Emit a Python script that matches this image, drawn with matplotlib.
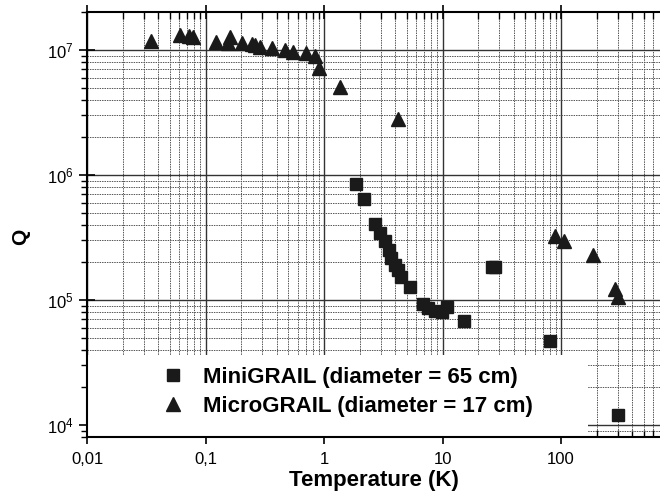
import matplotlib
matplotlib.use("Agg")
import matplotlib.pyplot as plt
from matplotlib.patches import Rectangle
from matplotlib.ticker import LogLocator, FuncFormatter, NullFormatter

plt.rcParams['font.family'] = ['Liberation Sans', 'DejaVu Sans']
plt.rcParams['mathtext.default'] = 'regular'

# MiniGRAIL (squares)
mini_T = [1.86, 2.18, 2.69, 2.97, 3.27, 3.5, 3.7, 3.96, 4.2, 4.5, 5.3,
          6.8, 7.6, 8.65, 9.9, 10.9, 15.1, 26.0, 27.5, 80.7, 302]
mini_Q = [8.5e5, 6.4e5, 4.06e5, 3.43e5, 2.97e5, 2.51e5, 2.17e5, 1.9e5, 1.74e5, 1.53e5, 1.27e5,
          9.3e4, 8.6e4, 8.2e4, 8.0e4, 8.8e4, 6.8e4, 1.84e5, 1.84e5, 4.7e4, 1.2e4]

# MicroGRAIL (triangles)
micro_T = [0.0347, 0.061, 0.0726, 0.0785, 0.123, 0.155, 0.161, 0.203, 0.247, 0.26,
           0.288, 0.363, 0.469, 0.547, 0.705, 0.84, 0.91, 1.36, 4.2, 89, 106, 186, 286, 302]
micro_Q = [1.18e7, 1.32e7, 1.29e7, 1.27e7, 1.16e7, 1.14e7, 1.27e7, 1.14e7, 1.12e7, 1.1e7,
           1.06e7, 1.04e7, 1.0e7, 0.96e7, 0.95e7, 0.9e7, 7.2e6, 5.06e6, 2.8e6, 3.25e5, 2.97e5,
           2.29e5, 1.22e5, 1.06e5]

labels = ["MiniGRAIL (diameter = 65 cm)", "MicroGRAIL (diameter = 17 cm)"]


def comma_fmt(x, pos):
    if x >= 1:
        return "%d" % round(x)
    return ("%g" % x).replace(".", ",")


def main():
    fig = plt.figure(figsize=(6.6, 5), dpi=100)
    ax = fig.add_axes([0.132, 0.126, 0.868, 0.85])
    ax.set_xscale("log")
    ax.set_yscale("log")
    ax.set(xlim=(0.01, 684), ylim=(8.0e3, 2.01e7))

    ax.xaxis.set_major_locator(LogLocator(base=10, numticks=12))
    ax.xaxis.set_minor_locator(LogLocator(base=10, subs=range(2, 10), numticks=12))
    ax.xaxis.set_major_formatter(FuncFormatter(comma_fmt))
    ax.xaxis.set_minor_formatter(NullFormatter())
    ax.yaxis.set_minor_locator(LogLocator(base=10, subs=range(2, 10), numticks=12))
    ax.yaxis.set_minor_formatter(NullFormatter())

    ax.grid(which="major", color="#333333", linewidth=1.0, linestyle="-")
    ax.grid(which="minor", color="#555555", linewidth=0.7, linestyle=(0, (1.5, 1)))
    ax.set_axisbelow(True)

    ax.tick_params(axis="x", which="major", direction="inout", length=10, width=1.2,
                   top=True, labelsize=12, pad=6)
    ax.tick_params(axis="x", which="minor", direction="in", length=5, width=1, top=True)
    ax.tick_params(axis="y", which="major", direction="inout", length=12, width=1.2,
                   labelsize=12)
    ax.tick_params(axis="y", which="minor", direction="out", length=4, width=1)

    for s in ["left", "bottom", "top"]:
        ax.spines[s].set_linewidth(1.5)
    ax.spines["right"].set_visible(False)

    # white box behind the legend
    ax.add_patch(Rectangle((0, 0), 0.874, 0.193, transform=ax.transAxes,
                           facecolor="white", edgecolor="none", zorder=1.5))

    ax.plot(mini_T, mini_Q, "s", color="#1a1a1a", markersize=8, label=labels[0], zorder=3)
    ax.plot(micro_T, micro_Q, "^", color="#1a1a1a", markersize=10, label=labels[1], zorder=3)

    ax.legend(loc="center", bbox_to_anchor=(0.45, 0.106), frameon=False,
              prop={"weight": "bold", "size": 16}, handletextpad=0.6, labelspacing=0.35,
              handlelength=1.5)

    ax.set_xlabel("Temperature (K)", fontsize=16, fontweight="bold", labelpad=2)
    ax.set_ylabel("Q", fontsize=15, fontweight="bold")
    ax.yaxis.set_label_coords(-0.10, 0.47)

    fig.savefig("out.png", dpi=100)


if __name__ == '__main__':
    main()
